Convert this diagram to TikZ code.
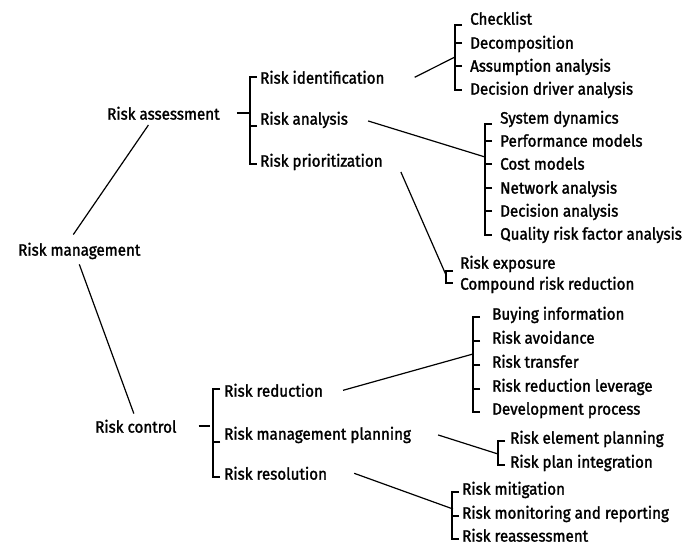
\documentclass[tikz,border=0pt]{standalone}
\usepackage{fontspec}
\setmainfont[FakeStretch=0.92, FakeBold=1.6]{Fira Sans}
\usetikzlibrary{calc}

\begin{document}
\begin{tikzpicture}[
    x=1pt, y=-1pt,
    every node/.style={font=\fontsize{16.5}{19}\selectfont, inner sep=0pt,
                       anchor=mid west, yshift=-4pt},
    brk/.style={line width=2pt},
    link/.style={line width=1.2pt},
]
\useasboundingbox (0,0) rectangle (684,553);

% ---- Root and first level ----
\node (mgmt)    at (18,249)  {Risk management};
\node (assess)  at (107,113) {Risk assessment};
\node (control) at (95,426)  {Risk control};

\draw[link] ([xshift=-15pt,yshift=-5pt]assess.south) -- ([xshift=-6pt,yshift=8pt]mgmt.north);
\draw[link] ([yshift=-5pt]mgmt.south) -- ([xshift=-2pt,yshift=6pt]control.north);

% ---- Risk assessment branch ----
\node (ident) at (260,77)  {Risk identification};
\node (anal)  at (260,118) {Risk analysis};
\node (prio)  at (260,160) {Risk prioritization};

\draw[brk] ([xshift=17pt]assess.east) -- ++(13,0);
\draw[brk] ([xshift=-3pt,yshift=4pt]ident.mid west) -- ++(-7,0) |- ([xshift=-3pt]prio.mid west);
\draw[brk] ([xshift=-3pt,yshift=-4pt]anal.mid west) -- ++(-7,0);

% ---- Risk identification techniques ----
\node (chk) at (470,18) {Checklist};
\node (dec) at (470,42) {Decomposition};
\node (asm) at (470,65) {Assumption analysis};
\node (ddr) at (470,88) {Decision driver analysis};
\coordinate (chkjoin) at (455,53);

\draw[brk] ([xshift=-8pt,yshift=-3pt]chk.mid west) -- ++(-7,0) |- ([xshift=-8pt,yshift=2pt]ddr.mid west);
\draw[brk] ([xshift=-8pt,yshift=3pt]dec.mid west) -- ++(-7,0);
\draw[brk] ([xshift=-8pt,yshift=3pt]asm.mid west) -- ++(-7,0);
\draw[link] ([xshift=30pt]ident.east) -- (chkjoin);

% ---- Risk analysis techniques ----
\node (sys)  at (500,117) {System dynamics};
\node (perf) at (500,140) {Performance models};
\node (cost) at (500,163) {Cost models};
\node (net)  at (500,187) {Network analysis};
\node (dan)  at (500,210) {Decision analysis};
\node (qual) at (500,233) {Quality risk factor analysis};
\coordinate (sysjoin) at (485,153);

\draw[brk] ([xshift=-8pt,yshift=-3pt]sys.mid west) -- ++(-7,0) |- ([xshift=-8pt,yshift=2pt]qual.mid west);
\foreach \n in {perf,cost,net,dan}
    \draw[brk] ([xshift=-8pt,yshift=3pt]\n.mid west) -- ++(-7,0);
\draw[link] ([xshift=20pt,yshift=-1pt]anal.east) -- (sysjoin);

% ---- Risk prioritization techniques ----
\node (expo) at (460,262) {Risk exposure};
\node (crr)  at (460,283) {Compound risk reduction};
\coordinate (expjoin) at (446,271);

\draw[brk] ([xshift=-7pt,yshift=-5pt]expo.mid west) -- ++(-7,0) |- ([xshift=-7pt,yshift=4pt]crr.mid west);
\draw[link] ([xshift=18pt,yshift=-10pt]prio.east) -- (expjoin);

% ---- Risk control branch ----
\node (red)  at (224,390) {Risk reduction};
\node (plan) at (224,433) {Risk management planning};
\node (reso) at (224,473) {Risk resolution};

\draw[brk] ([xshift=22pt]control.east) -- ++(11,0);
\draw[brk] ([xshift=-4pt,yshift=5pt]red.mid west) -- ++(-7,0) |- ([xshift=-4pt]reso.mid west);
\draw[brk] ([xshift=-4pt,yshift=-5pt]plan.mid west) -- ++(-7,0);

% ---- Risk reduction techniques ----
\node (buy) at (492,313) {Buying information};
\node (avo) at (492,337) {Risk avoidance};
\node (tra) at (492,361) {Risk transfer};
\node (lev) at (492,385) {Risk reduction leverage};
\node (dev) at (492,408) {Development process};
\coordinate (buyjoin) at (473,350);

\draw[brk] ([xshift=-12pt]buy.mid west) -- ++(-7,0) |- ([xshift=-12pt]dev.mid west);
\foreach \n in {avo,tra,lev}
    \draw[brk] ([xshift=-12pt]\n.mid west) -- ++(-7,0);
\draw[link] ([xshift=20pt]red.east) -- (buyjoin);

% ---- Risk management planning techniques ----
\node (elem)  at (510,437) {Risk element planning};
\node (integ) at (510,461) {Risk plan integration};
\coordinate (elemjoin) at (498,450);

\draw[brk] ([xshift=-5pt]elem.mid west) -- ++(-7,0) |- ([xshift=-5pt]integ.mid west);
\draw[link] ([xshift=27pt]plan.east) -- (elemjoin);

% ---- Risk resolution techniques ----
\node (mit)  at (462,488) {Risk mitigation};
\node (mon)  at (462,512) {Risk monitoring and reporting};
\node (reas) at (462,535) {Risk reassessment};
\coordinate (mitjoin) at (453,505);

\draw[brk] ([xshift=-3pt]mit.mid west) -- ++(-7,0) |- ([xshift=-3pt]reas.mid west);
\draw[brk] ([xshift=-3pt]mon.mid west) -- ++(-7,0);
\draw[link] ([xshift=27pt]reso.east) -- (mitjoin);

\end{tikzpicture}
\end{document}
